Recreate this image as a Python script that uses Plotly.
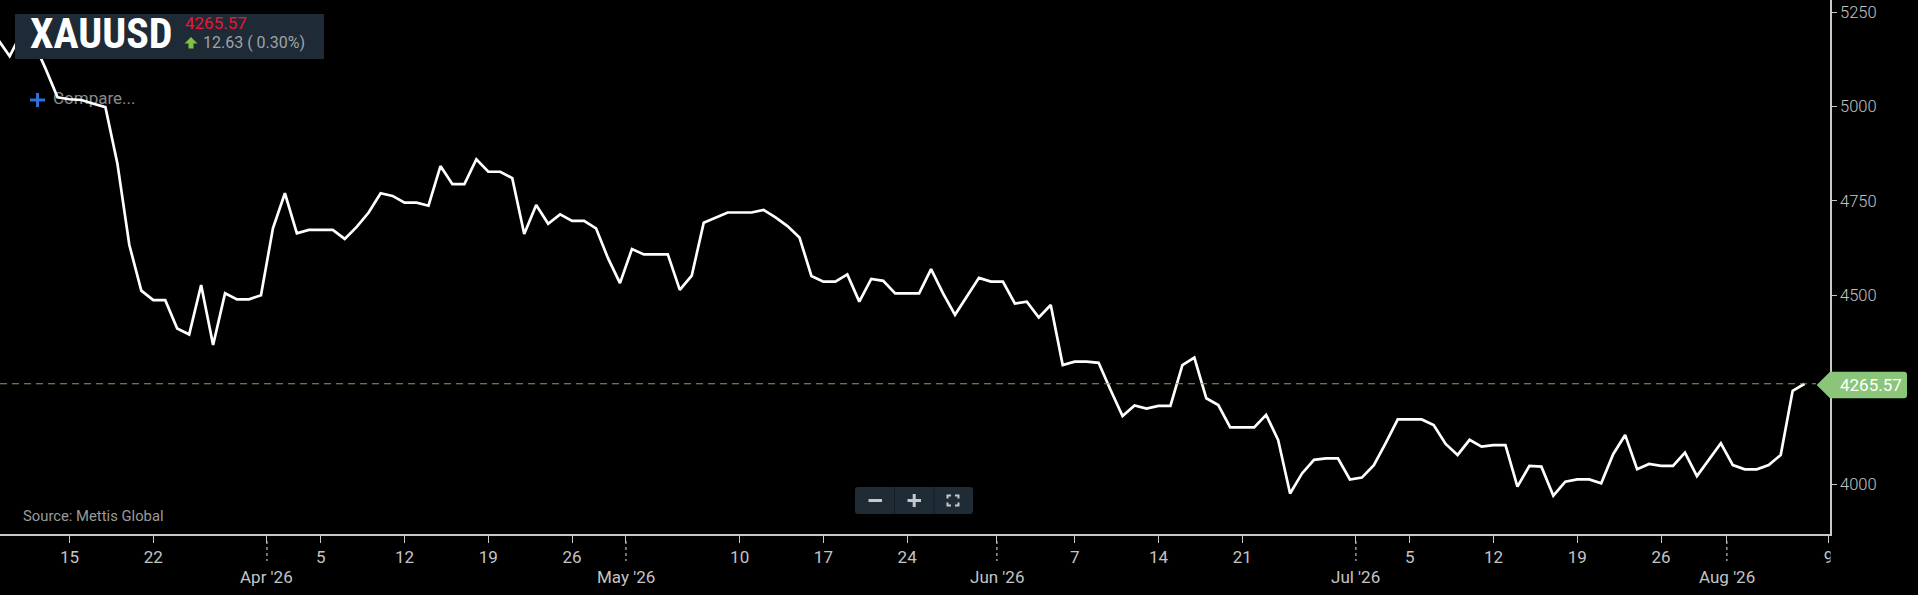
import plotly.graph_objects as go
import pandas as pd

# ---------------- data ----------------
start_date = "2026-03-09"
mar = [5178, 5133, 5195, 5170, 5100, 5024, 5019, 5017, 5007, 4998, 4849, 4633,
       4512, 4487, 4487, 4412, 4396, 4527, 4368, 4505, 4489, 4489, 4500]
apr = [4677, 4770, 4664, 4673, 4673, 4673, 4649, 4681, 4719, 4770, 4763, 4745,
       4745, 4737, 4842, 4794, 4794, 4860, 4827, 4827, 4810, 4662, 4739, 4689,
       4714, 4697, 4697, 4677, 4598, 4532]
may = [4622, 4608, 4608, 4608, 4514, 4552, 4692, 4706, 4719, 4719, 4719, 4726,
       4706, 4683, 4653, 4551, 4536, 4536, 4555, 4483, 4543, 4538, 4505, 4505,
       4505, 4569, 4505, 4448, 4497, 4546, 4536]
jun = [4536, 4478, 4483, 4441, 4474, 4315, 4324, 4324, 4321, 4249, 4180, 4208,
       4200, 4207, 4207, 4315, 4335, 4227, 4209, 4150, 4150, 4150, 4183, 4117,
       3975, 4028, 4064, 4068, 4068, 4012]
jul = [4017, 4050, 4109, 4171, 4171, 4171, 4156, 4106, 4077, 4117, 4099, 4103,
       4103, 3993, 4048, 4046, 3969, 4006, 4012, 4012, 4002, 4079, 4130, 4039,
       4053, 4048, 4048, 4083, 4021, 4065, 4108]
aug = [4050, 4039, 4039, 4050, 4077, 4247, 4265.57]

last_price = 4265.57
change_text = "12.63 ( 0.30%)"
symbol = "XAUUSD"
source_text = "Source: Mettis Global"

week_ticks = ["2026-03-15", "2026-03-22", "2026-04-05", "2026-04-12", "2026-04-19",
              "2026-04-26", "2026-05-10", "2026-05-17", "2026-05-24", "2026-06-07",
              "2026-06-14", "2026-06-21", "2026-07-05", "2026-07-12", "2026-07-19",
              "2026-07-26", "2026-08-09"]
week_labels = ["15", "22", "5", "12", "19", "26", "10", "17", "24", "7", "14", "21",
               "5", "12", "19", "26", "9"]
month_starts = ["2026-04-01", "2026-05-01", "2026-06-01", "2026-07-01", "2026-08-01"]
month_labels = ["Apr '26", "May '26", "Jun '26", "Jul '26", "Aug '26"]
y_ticks = [4000, 4500, 4750, 5000, 5250]

values = mar + apr + may + jun + jul + aug
dates = pd.date_range(start_date, periods=len(values), freq="D")

# ---------------- layout geometry ----------------
W, H = 1918, 595
W_PLOT, H_PLOT = 1830, 534
x_range = [pd.Timestamp("2026-03-09 04:36"), pd.Timestamp("2026-08-09 02:53")]
y_range = [3867.6, 5281.8]


def px(x):
    return x / W_PLOT


def py(y):
    return (H_PLOT - y) / H_PLOT


def date_at(xpix):
    span = (x_range[1] - x_range[0])
    return x_range[0] + span * (xpix / W_PLOT)


def val_at(ypix):
    return y_range[1] - (y_range[1] - y_range[0]) * (ypix / H_PLOT)


def path(points, close=True):
    s = "M " + " L ".join(f"{px(a):.6f},{py(b):.6f}" for a, b in points)
    return s + (" Z" if close else "")


def rrect(x0, y0, x1, y1, r):
    def P(a, b):
        return f"{px(a):.6f},{py(b):.6f}"
    return (f"M {P(x0 + r, y0)} L {P(x1 - r, y0)} Q {P(x1, y0)} {P(x1, y0 + r)} "
            f"L {P(x1, y1 - r)} Q {P(x1, y1)} {P(x1 - r, y1)} L {P(x0 + r, y1)} "
            f"Q {P(x0, y1)} {P(x0, y1 - r)} L {P(x0, y0 + r)} Q {P(x0, y0)} {P(x0 + r, y0)} Z")


BASE = "Roboto, 'Noto Sans', sans-serif"
TICK_COLOR = "#c4c4c4"

fig = go.Figure()

# "Compare..." sits under the price line
fig.add_trace(go.Scatter(
    x=[date_at(53)], y=[val_at(100)], mode="text", text=["Compare..."],
    textposition="middle right", hoverinfo="skip", showlegend=False,
    textfont=dict(family=BASE, size=17, color="#8a8a8a"),
))

fig.add_trace(go.Scatter(
    x=dates, y=values, mode="lines", hoverinfo="skip", showlegend=False,
    line=dict(color="#ffffff", width=2.7),
))

shapes = []
# last-price dashed line
shapes.append(dict(type="line", xref="paper", yref="y", x0=0, x1=px(1816),
                   y0=last_price, y1=last_price,
                   line=dict(color="#76a65b", width=1.2, dash="7px,5px"), layer="above"))
# month dotted ticks
for m in month_starts:
    mx = pd.Timestamp(m) - pd.Timedelta(hours=12)
    shapes.append(dict(type="line", xref="x", yref="paper", x0=mx, x1=mx,
                       y0=py(541), y1=py(561),
                       line=dict(color="#bdbdbd", width=1.2, dash="dot"), layer="above"))
# mask right of the plot below axis (clips the last tick label as in reference)
shapes.append(dict(type="rect", xref="paper", yref="paper", x0=px(1830.6), x1=px(1918),
                   y0=py(536), y1=py(595), fillcolor="#000000", line=dict(width=0),
                   layer="above"))
# symbol box
shapes.append(dict(type="rect", xref="paper", yref="paper", x0=px(15), x1=px(324),
                   y0=py(14), y1=py(59), fillcolor="#1e2a35", line=dict(width=0),
                   layer="above"))
# green up arrow
shapes.append(dict(type="path", xref="paper", yref="paper",
                   path=path([(191, 37), (197.5, 43.5), (193.5, 43.5), (193.5, 48.5),
                              (188.5, 48.5), (188.5, 43.5), (184.5, 43.5)]),
                   fillcolor="#7dc242", line=dict(width=0), layer="above"))
# blue plus
shapes.append(dict(type="line", xref="paper", yref="paper", x0=px(30), x1=px(45),
                   y0=py(100), y1=py(100), line=dict(color="#2f6fd8", width=3), layer="above"))
shapes.append(dict(type="line", xref="paper", yref="paper", x0=px(37.5), x1=px(37.5),
                   y0=py(93), y1=py(107), line=dict(color="#2f6fd8", width=3), layer="above"))
# price label on the axis
shapes.append(dict(type="path", xref="paper", yref="paper",
                   path=(f"M {px(1816.7):.6f},{py(385):.6f} L {px(1830):.6f},{py(371.7):.6f} "
                         f"L {px(1904):.6f},{py(371.7):.6f} Q {px(1907):.6f},{py(371.7):.6f} {px(1907):.6f},{py(374.7):.6f} "
                         f"L {px(1907):.6f},{py(395.3):.6f} Q {px(1907):.6f},{py(398.3):.6f} {px(1904):.6f},{py(398.3):.6f} "
                         f"L {px(1830):.6f},{py(398.3):.6f} Z"),
                   fillcolor="#8bc57a", line=dict(width=0), layer="above"))
# zoom buttons
shapes.append(dict(type="path", xref="paper", yref="paper", path=rrect(855, 487, 973, 514, 3),
                   fillcolor="#1f2b35", line=dict(width=0), layer="above"))
for dx in (894.5, 934):
    shapes.append(dict(type="line", xref="paper", yref="paper", x0=px(dx), x1=px(dx),
                       y0=py(487), y1=py(514), line=dict(color="#151e26", width=1), layer="above"))
ICON = "#c3c9cf"
shapes.append(dict(type="line", xref="paper", yref="paper", x0=px(868.5), x1=px(882),
                   y0=py(500.5), y1=py(500.5), line=dict(color=ICON, width=3), layer="above"))
shapes.append(dict(type="line", xref="paper", yref="paper", x0=px(907.5), x1=px(921),
                   y0=py(500.5), y1=py(500.5), line=dict(color=ICON, width=3), layer="above"))
shapes.append(dict(type="line", xref="paper", yref="paper", x0=px(914.2), x1=px(914.2),
                   y0=py(494), y1=py(507), line=dict(color=ICON, width=3), layer="above"))
for pts in ([(947.5, 498.5), (947.5, 495.5), (951, 495.5)],
            [(955, 495.5), (958.5, 495.5), (958.5, 498.5)],
            [(947.5, 502.5), (947.5, 505.5), (951, 505.5)],
            [(955, 505.5), (958.5, 505.5), (958.5, 502.5)]):
    shapes.append(dict(type="path", xref="paper", yref="paper", path=path(pts, close=False),
                       line=dict(color=ICON, width=2), layer="above"))

annotations = []
annotations.append(dict(xref="paper", yref="paper", x=px(28), y=py(33.5), xanchor="left",
                        yanchor="middle", showarrow=False, text=f"<b>{symbol}</b>",
                        font=dict(family="'Roboto Condensed', 'Liberation Sans Narrow', Roboto, sans-serif",
                                  size=42, color="#ffffff")))
annotations.append(dict(xref="paper", yref="paper", x=px(183), y=py(23), xanchor="left",
                        yanchor="middle", showarrow=False, text=f"{last_price:.2f}",
                        font=dict(family=BASE, size=17, color="#e8173a")))
annotations.append(dict(xref="paper", yref="paper", x=px(201), y=py(43), xanchor="left",
                        yanchor="middle", showarrow=False, text=change_text,
                        font=dict(family=BASE, size=16, color="#9fa3a6")))
annotations.append(dict(xref="paper", yref="paper", x=px(21), y=py(516), xanchor="left",
                        yanchor="middle", showarrow=False, text=source_text,
                        font=dict(family=BASE, size=14.8, color="#9a9a9a")))
annotations.append(dict(xref="paper", yref="paper", x=px(1837.5), y=py(385), xanchor="left",
                        yanchor="middle", showarrow=False, text=f"{last_price:.2f}",
                        font=dict(family=BASE, size=17, color="#ffffff")))
for m, lab in zip(month_starts, month_labels):
    mx = pd.Timestamp(m) - pd.Timedelta(hours=12)
    annotations.append(dict(xref="x", yref="paper", x=mx, y=py(577), xanchor="center",
                            yanchor="middle", showarrow=False, text=lab,
                            font=dict(family=BASE, size=17, color=TICK_COLOR)))

tickvals = [pd.Timestamp(d) for d in week_ticks] + \
           [pd.Timestamp(m) - pd.Timedelta(hours=12) for m in month_starts]
ticktext = week_labels + [""] * len(month_starts)

fig.update_layout(
    width=W, height=H,
    margin=dict(l=0, r=W - W_PLOT, t=0, b=H - H_PLOT, pad=0),
    paper_bgcolor="#000000", plot_bgcolor="#000000",
    showlegend=False,
    shapes=shapes, annotations=annotations,
    xaxis=dict(range=x_range, type="date", showgrid=False, zeroline=False,
               showline=True, linecolor="#c8c8c8", linewidth=1.5,
               tickmode="array", tickvals=tickvals, ticktext=ticktext,
               ticks="outside", ticklen=7, tickwidth=1.2, tickcolor="#c8c8c8",
               tickfont=dict(family=BASE, size=17, color=TICK_COLOR),
               fixedrange=True),
    yaxis=dict(range=y_range, side="right", showgrid=False, zeroline=False,
               showline=True, linecolor="#c8c8c8", linewidth=1.5,
               tickmode="array", tickvals=y_ticks, ticktext=[str(v) for v in y_ticks],
               ticks="outside", ticklen=5, tickwidth=1.2, tickcolor="#c8c8c8",
               tickfont=dict(family=BASE, size=16.5, color=TICK_COLOR, weight=300),
               fixedrange=True),
)

fig.write_html("out.html", config={"displayModeBar": False},
               post_script="document.body.style.margin='0';document.body.style.overflow='hidden';")
